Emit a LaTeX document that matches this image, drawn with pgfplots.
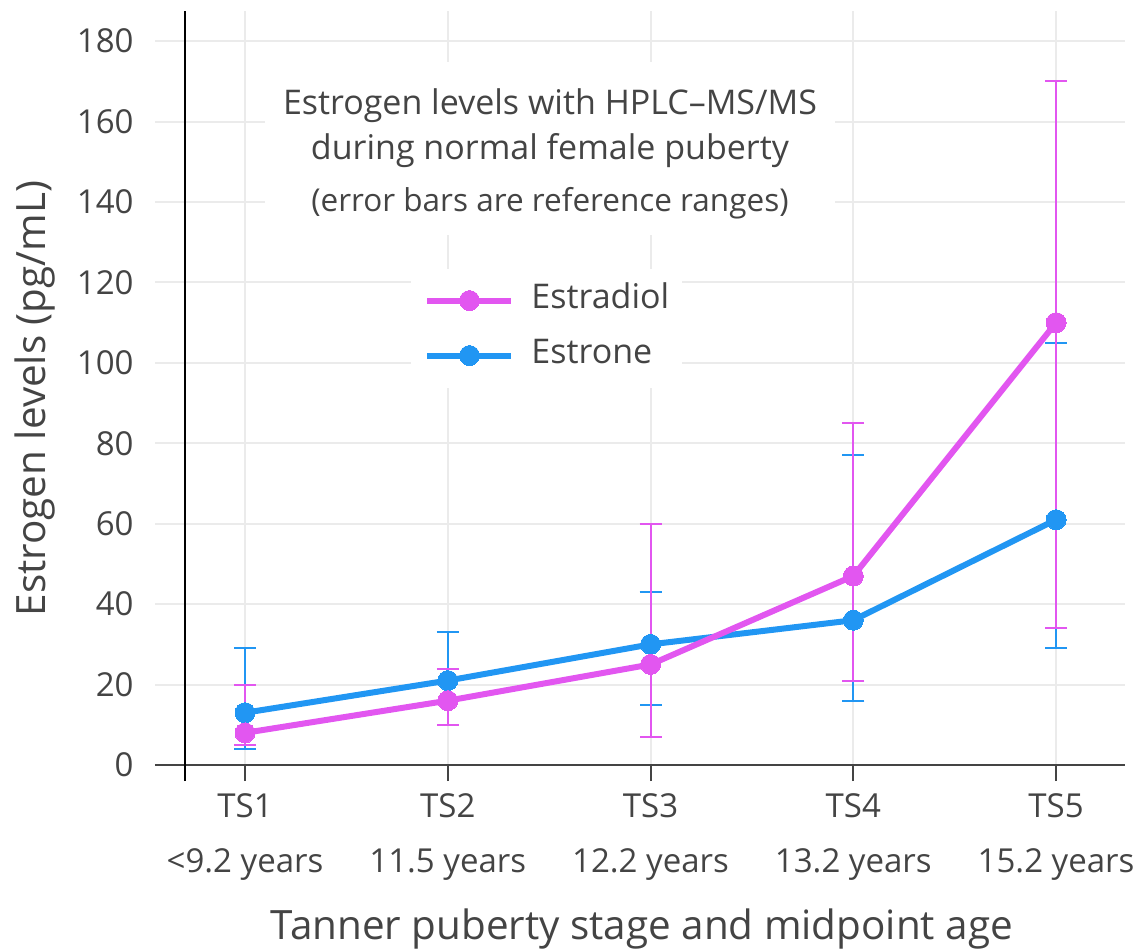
\documentclass[border=0pt]{standalone}
\usepackage{pgfplots}
\pgfplotsset{compat=1.18}
\usepackage{pgfplotstable}
\usepackage{fontspec}
\setmainfont{Open Sans}
\definecolor{txt}{HTML}{444444}
\definecolor{mag}{RGB}{226,86,240}
\definecolor{blu}{RGB}{33,150,243}
\definecolor{grd}{HTML}{EBEBEB}

\pgfplotstableread{
x y ep em
0 8 12 3
1 16 8 6
2 25 35 18
3 47 38 26
4 110 60 76
}\estradiol
\pgfplotstableread{
x y ep em
0 13 16 9
1 21 12 11
2 30 13 15
3 36 41 20
4 61 44 32
}\estrone

\begin{document}
\begin{tikzpicture}
\begin{axis}[
  scale only axis,
  width=485pt, height=377pt,
  xmin=-0.444, xmax=4.34,
  ymin=0, ymax=187.5,
  clip=false,
  axis x line*=bottom,
  axis y line*=left,
  y axis line style={draw=none},
  x axis line style={color=txt, line width=1pt},
  xtick={0,1,2,3,4},
  xticklabels={{TS1\\<9.2 years},{TS2\\11.5 years},{TS3\\12.2 years},{TS4\\13.2 years},{TS5\\15.2 years}},
  ytick={0,20,...,180},
  tick align=outside,
  major tick length=8pt,
  xtick style={color=txt, line width=1pt},
  ytick style={draw=none},
  xmajorgrids, ymajorgrids,
  major grid style={color=grd, line width=1pt},
  /pgf/number format/assume math mode=true,
  xticklabel style={align=center, font=\fontsize{16.5}{27.5}\selectfont, text=txt, anchor=north, inner sep=0pt, yshift=-6pt},
  yticklabel style={font=\fontsize{16.5}{19}\selectfont, text=txt, anchor=east, inner sep=0pt, xshift=-2.5pt},
  every axis x label/.style={at={(axis description cs:0.502,-0.218)}, anchor=center, font=\fontsize{20.2}{24}\selectfont, text=txt},
  every axis y label/.style={at={(axis description cs:-0.124,0.486)}, anchor=center, rotate=90, font=\fontsize{20.2}{24}\selectfont, text=txt},
  xlabel={Tanner puberty stage and midpoint age},
  ylabel={Estrogen levels (pg/mL)},
  reverse legend,
  legend cell align=left,
  legend style={at={(rel axis cs:0.264,0.659)}, anchor=north west, draw=none, fill=white,
    font=\fontsize{17}{20}\selectfont, text=txt, inner xsep=6.5pt, inner ysep=8pt,
    row sep=11.5pt, /tikz/column sep=8.5pt,
    nodes={inner sep=0pt, text height=12pt, text depth=4pt}},
  legend image code/.code={
    \draw[#1, mark repeat=2, mark phase=2] plot coordinates {(0pt,0pt) (21pt,0pt) (42pt,0pt)};
  },
]
% title box
\fill[white] (axis cs:0.1,131.8) rectangle (axis cs:2.91,174.8);
\node[text=txt, font=\fontsize{17}{20}\selectfont] at (axis cs:1.504,163.9) {Estrogen levels with HPLC–MS/MS};
\node[text=txt, font=\fontsize{17}{20}\selectfont] at (axis cs:1.504,152.9) {during normal female puberty};
\node[text=txt, font=\fontsize{15.75}{18}\selectfont] at (axis cs:1.504,139.8) {(error bars are reference ranges)};

\addplot[color=blu, line width=3pt, mark=*, mark size=5pt, mark options={solid, fill=blu, draw=blu, line width=0pt},
  error bars/.cd, y dir=both, y explicit,
  error bar style={color=blu, line width=1pt},
  error mark options={rotate=90, color=blu, mark size=5.5pt, line width=1pt}]
  table[x=x, y=y, y error plus=ep, y error minus=em] {\estrone};
\addlegendentry{Estrone}
\addplot[color=mag, line width=3pt, mark=*, mark size=5pt, mark options={solid, fill=mag, draw=mag, line width=0pt},
  error bars/.cd, y dir=both, y explicit,
  error bar style={color=mag, line width=1pt},
  error mark options={rotate=90, color=mag, mark size=5.5pt, line width=1pt}]
  table[x=x, y=y, y error plus=ep, y error minus=em] {\estradiol};
\addlegendentry{Estradiol}

\draw[black, line width=1pt] (axis cs:-0.296,-4) -- (axis cs:-0.296,187.5);
\end{axis}
\pgfresetboundingbox
\path[use as bounding box] ([shift={(-77.5pt,-92.5pt)}]current axis.south west) rectangle ([shift={(7.5pt,5.5pt)}]current axis.north east);
\end{tikzpicture}
\end{document}
